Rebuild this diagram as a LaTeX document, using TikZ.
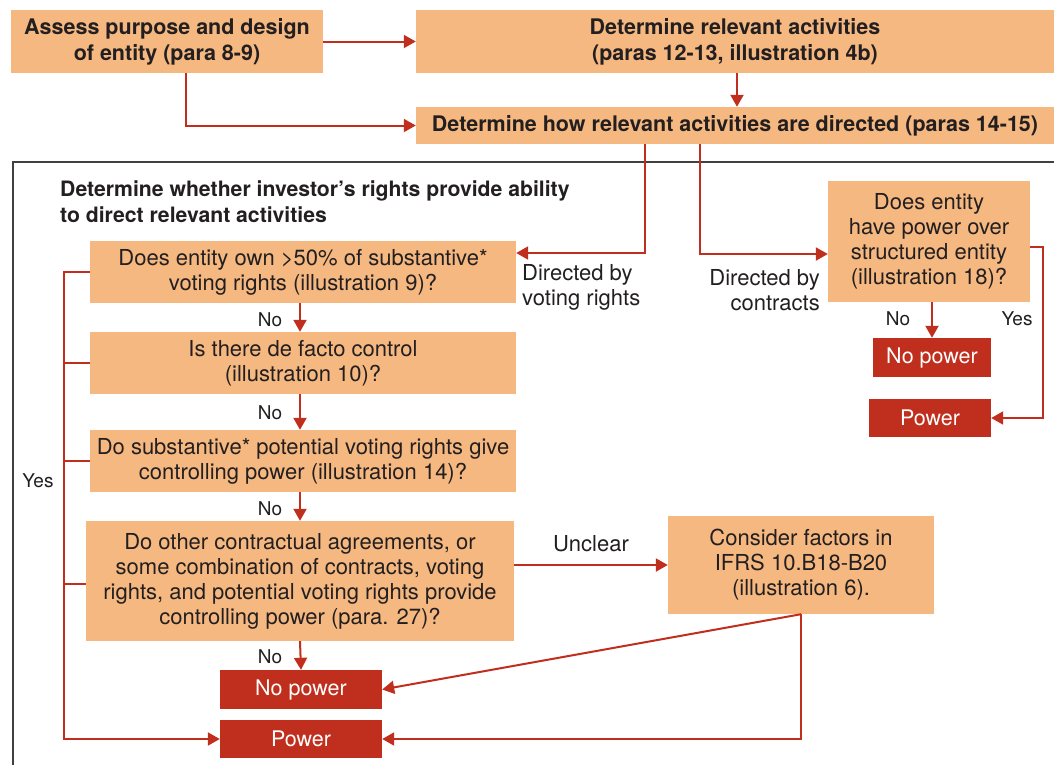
\documentclass[tikz,border=0pt]{standalone}
\usepackage{fontspec}
\setmainfont{TeX Gyre Heros}
\usetikzlibrary{arrows.meta,calc}
\definecolor{boxorange}{HTML}{F5B880}
\definecolor{flowred}{HTML}{C02E1D}
\definecolor{inktext}{HTML}{231F20}

\begin{document}
\begin{tikzpicture}[x=1pt,y=-1pt,
    box/.style={fill=boxorange, text=inktext, align=center, inner sep=0pt,
      font=\fontsize{22}{25}\selectfont},
    headbox/.style={box, font=\fontsize{21.5}{26}\selectfont\bfseries},
    redbox/.style={fill=flowred, text=white, inner sep=0pt,
      font=\fontsize{21.5}{25}\selectfont},
    lbl/.style={text=inktext, inner sep=0pt, font=\fontsize{19}{24}\selectfont},
    biglbl/.style={lbl, font=\fontsize{22}{25}\selectfont},
    arr/.style={draw=flowred, line width=2pt, -{Triangle[length=12pt,width=13pt]}},
    bus/.style={draw=flowred, line width=2pt}]
  \useasboundingbox (0,0) rectangle (1054,764);
  % frame round the rights part
  \draw[line width=1.5pt, draw=black!75] (1060,162) -- (13,162) -- (13,770);
  \node (title) [lbl, anchor=west, align=left, font=\fontsize{21.2}{26}\selectfont\bfseries]
    at (60,202) {Determine whether investor's rights provide ability\\to direct relevant activities};

  % top row
  \node (assess) [headbox, minimum width=312, minimum height=63] at (167,41.5)
    {Assess purpose and design\\of entity (para 8-9)};
  \node (relevant) [headbox, minimum width=638, minimum height=63] at (735,41.5)
    {Determine relevant activities\\(paras 12-13, illustration 4b)};
  \node (directed) [headbox, minimum width=638, minimum height=37] at (735,125.5)
    {Determine how relevant activities are directed (paras 14-15)};

  % questions
  \node (q1) [box, minimum width=426, minimum height=62] at (303,272)
    {Does entity own >50\% of substantive*\\voting rights (illustration 9)?};
  \node (q2) [box, minimum width=426, minimum height=62] at (303,363)
    {Is there de facto control\\(illustration 10)?};
  \node (q3) [box, minimum width=426, minimum height=62] at (303,461)
    {Do substantive* potential voting rights give\\controlling power (illustration 14)?};
  \node (q4) [box, minimum width=428, minimum height=120] at (300,581)
    {Do other contractual agreements, or\\some combination of contracts, voting\\rights, and potential voting rights provide\\controlling power (para. 27)?};
  \node (factors) [box, minimum width=266, minimum height=98] at (801,565)
    {Consider factors in\\IFRS 10.B18-B20\\(illustration 6).};
  \node (struct) [box, minimum width=202, minimum height=121] at (929,241.5)
    {Does entity\\have power over\\structured entity\\(illustration 18)?};

  % outcomes
  \node (nopowR) [redbox, minimum width=118, minimum height=39] at (932,357.5) {No power};
  \node (powR) [redbox, minimum width=122, minimum height=38] at (930,418) {Power};
  \node (nopowL) [redbox, minimum width=162, minimum height=39] at (301,689.5) {No power};
  \node (powL) [redbox, minimum width=162, minimum height=38] at (301,739) {Power};

  % top connectors
  \draw[arr] (assess.east) -- (relevant.west);
  \draw[arr] ($(assess.south)+(19,0)$) |- (directed.west);
  \draw[arr] ($(relevant.south)+(2,0)$) -- ($(directed.north)+(2,0)$);
  \draw[arr] ($(directed.south)+(-90,0)$) |- ($(q1.east)+(0,-19)$);
  \draw[arr] ($(directed.south)+(-35,0)$) |- ($(struct.west)+(0,12.5)$);
  \node (bycontract) [biglbl, anchor=east, align=right] at (820,290) {Directed by\\contracts};
  \node (byvoting) [biglbl, anchor=west, align=left] at (522,287) {Directed by\\voting rights};

  % structured entity branch
  \draw[arr] ($(struct.south)+(3,0)$) -- (nopowR.north);
  \draw[arr] ($(struct.east)+(0,5.5)$) -- ++(13,0) |- (powR.east);
  \node (noR) [lbl] at (898,319) {No};
  \node (yesR) [lbl] at (1017,319) {Yes};

  % question chain
  \draw[arr] ($(q1.south)+(-3,0)$) -- ($(q2.north)+(-3,0)$);
  \draw[arr] ($(q2.south)+(-3,0)$) -- ($(q3.north)+(-3,0)$);
  \draw[arr] ($(q3.south)+(-3,0)$) -- (q4.north);
  \draw[arr] (q4.south) -- (nopowL.north);
  \node (no1) [lbl] at (270,320) {No};
  \node (no2) [lbl] at (270,413) {No};
  \node (no3) [lbl] at (270,509) {No};
  \node (no4) [lbl] at (270,657) {No};

  % yes bus on the left
  \coordinate (yesbus) at (64,272);
  \draw[arr] (q1.west) -- (yesbus) |- (powL.west);
  \draw[bus] (q2.west) -- (q2.west -| yesbus);
  \draw[bus] (q3.west) -- (q3.west -| yesbus);
  \draw[bus] ($(q4.west)+(0,3)$) -- ($(q4.west -| yesbus)+(0,3)$);
  \node (yesL) [lbl] at (38,481) {Yes};

  % unclear branch
  \draw[arr] (q4.east |- factors.west) -- (factors.west);
  \node (unclear) [biglbl] at (591,544) {Unclear};
  \draw[arr] (factors.south) -- (nopowL.east);
  \draw[arr] (factors.south) |- (powL.east);
\end{tikzpicture}
\end{document}
